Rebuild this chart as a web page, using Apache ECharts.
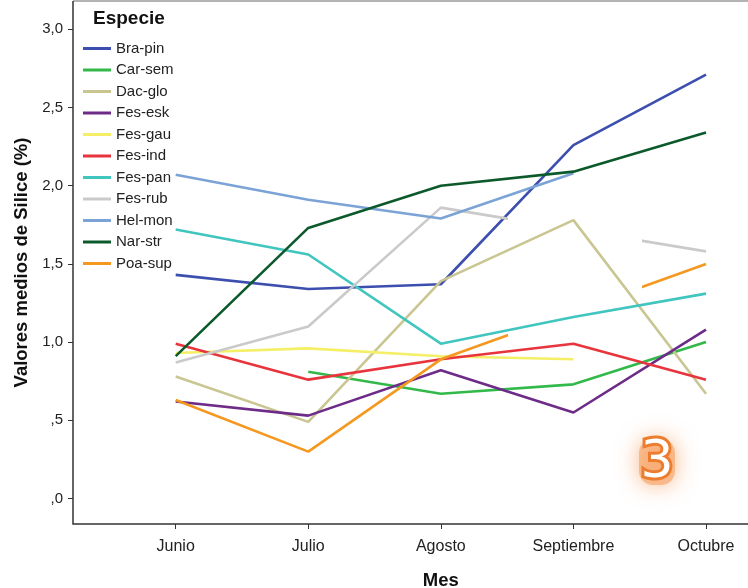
<!DOCTYPE html>
<html>
<head>
<meta charset="utf-8">
<script src="https://cdn.jsdelivr.net/npm/echarts@6/dist/echarts.min.js"></script>
<style>
html,body{margin:0;padding:0;background:#fff}
#chart{width:748px;height:588px}
</style>
</head>
<body>
<div id="chart"></div>
<script>
var myChart = echarts.init(document.getElementById('chart'))

var meses = ['Junio', 'Julio', 'Agosto', 'Septiembre', 'Octubre']
var especies = ['Bra-pin', 'Car-sem', 'Dac-glo', 'Fes-esk', 'Fes-gau', 'Fes-ind',
    'Fes-pan', 'Fes-rub', 'Hel-mon', 'Nar-str', 'Poa-sup']

// medias por mes (null = sin dato)
var braPin = [1.43, 1.34, 1.37, 2.26, 2.71]
var carSem = [null, 0.81, 0.67, 0.73, 1.00]
var dacGlo = [0.78, 0.49, 1.39, 1.78, 0.67]
var fesEsk = [0.62, 0.53, 0.82, 0.55, 1.08]
var fesGau = [0.93, 0.96, 0.91, 0.89, null]
var fesInd = [0.99, 0.76, 0.89, 0.99, 0.76]
var fesPan = [1.72, 1.56, 0.99, 1.16, 1.31]
var fesRub = [0.87, 1.10, 1.86, null, 1.58]
var helMon = [2.07, 1.91, 1.79, 2.08, null]
var narStr = [0.91, 1.73, 2.00, 2.09, 2.34]
var poaSup = [0.63, 0.30, 0.89, null, 1.50]

var yTicks = [0, 0.5, 1, 1.5, 2, 2.5, 3]

var valores = [braPin, carSem, dacGlo, fesEsk, fesGau, fesInd, fesPan, fesRub, helMon, narStr, poaSup]
var colores = ['#3c4fae', '#33b94a', '#cac691', '#6e2b88', '#f4ef66', '#e8353d',
    '#40c5bf', '#cacaca', '#7ca3d6', '#0c5a2c', '#f5981f']

var fuente = '"Liberation Sans", Arial, sans-serif'

// SPSS deja medio tramo a cada lado de un mes sin dato
function colorLinea(vals, color) {
    var f = -1, l = -1, huecos = []
    vals.forEach(function (v, i) {
        if (v != null) { if (f < 0) f = i; l = i }
    })
    vals.forEach(function (v, i) {
        if (v == null && i > f && i < l) huecos.push(i)
    })
    if (!huecos.length) return color
    var stops = [{offset: 0, color: color}]
    huecos.forEach(function (i) {
        var a = (i - 0.5 - f) / (l - f), b = (i + 0.5 - f) / (l - f)
        stops.push({offset: a, color: color}, {offset: a, color: 'rgba(0,0,0,0)'},
            {offset: b, color: 'rgba(0,0,0,0)'}, {offset: b, color: color})
    })
    stops.push({offset: 1, color: color})
    return new echarts.graphic.LinearGradient(0, 0, 1, 0, stops)
}

var series = especies.map(function (nombre, i) {
    return {
        name: nombre,
        type: 'line',
        data: valores[i],
        showSymbol: false,
        connectNulls: true,
        itemStyle: {color: colores[i]},
        lineStyle: {width: 2.6, color: colorLinea(valores[i], colores[i])},
        emphasis: {disabled: true}
    }
})

var option = {
    animation: false,
    backgroundColor: '#fff',
    title: {
        text: 'Especie',
        left: 93,
        top: 9,
        padding: 0,
        textStyle: {fontFamily: fuente, fontSize: 19, fontWeight: 'bold', color: '#111'}
    },
    legend: {
        orient: 'vertical',
        left: 83,
        top: 41,
        padding: 0,
        icon: 'rect',
        itemWidth: 28,
        itemHeight: 3,
        itemGap: 6.5,
        itemTextGap: 5,
        selectedMode: false,
        textStyle: {fontFamily: fuente, fontSize: 15, color: '#222', lineHeight: 14},
        data: especies.map(function (n, i) {
            return {name: n, itemStyle: {color: colores[i]}}
        })
    },
    grid: {left: 175.7, right: 42, top: 1, bottom: 64, containLabel: false, outerBoundsMode: 'none'},
    xAxis: {
        type: 'category',
        data: meses,
        boundaryGap: false,
        name: 'Mes',
        nameLocation: 'middle',
        nameGap: 47,
        nameTextStyle: {fontFamily: fuente, fontSize: 18.5, fontWeight: 'bold', color: '#111'},
        axisLine: {show: false, onZero: false},
        axisTick: {show: true, length: 5, lineStyle: {color: '#333'}},
        axisLabel: {fontFamily: fuente, fontSize: 16, color: '#222', margin: 15},
        splitLine: {show: false}
    },
    yAxis: {
        type: 'value',
        min: -0.163,
        max: 3.181,
        offset: 102.7,
        name: 'Valores medios de Silice (%)',
        nameLocation: 'middle',
        nameRotate: 90,
        nameGap: 42,
        nameTextStyle: {fontFamily: fuente, fontSize: 18.5, fontWeight: 'bold', color: '#111'},
        axisLine: {show: false, onZero: false},
        axisTick: {show: true, length: 5, customValues: yTicks, lineStyle: {color: '#333'}},
        axisLabel: {
            fontFamily: fuente, fontSize: 15, color: '#222', margin: 10,
            customValues: yTicks,
            formatter: function (v) {
                return v.toFixed(1).replace('.', ',').replace(/^0/, '')
            }
        },
        splitLine: {show: false}
    },
    graphic: [
        {type: 'polyline', shape: {points: [[73, 1], [748, 1]]}, style: {stroke: '#9a9a9a', lineWidth: 1.5}},
        {type: 'polyline', shape: {points: [[73, 1], [73, 524], [748, 524]]}, style: {stroke: '#333', lineWidth: 1.5, fill: null}},
        {type: 'rect', shape: {x: 639, y: 439, width: 36, height: 46, r: 14},
            style: {fill: 'rgba(247,160,95,0.6)', shadowBlur: 22, shadowColor: 'rgba(242,130,50,0.95)'}},
        {type: 'text', x: 657, y: 463,
            style: {text: '3', font: '52px "DejaVu Sans"', fill: '#fff', stroke: '#ec7d2e', lineWidth: 6,
                strokeFirst: true, align: 'center', verticalAlign: 'middle'}}
    ],
    series: series
}
myChart.setOption(option)
</script>
</body>
</html>
